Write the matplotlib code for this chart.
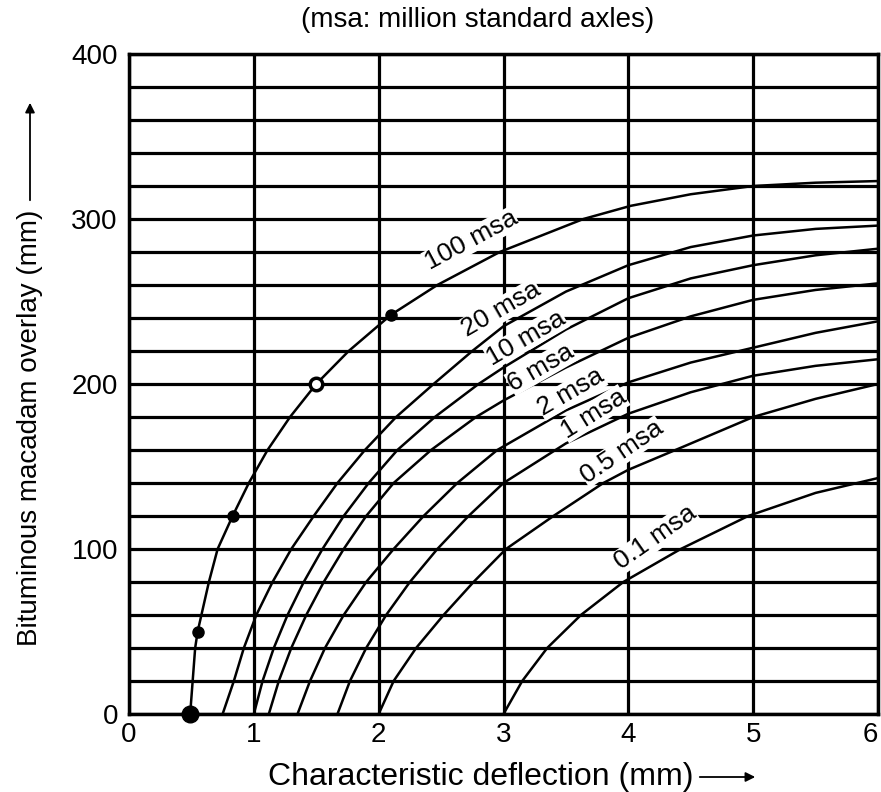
import matplotlib
matplotlib.use("Agg")
import matplotlib.pyplot as plt
import numpy as np

plt.rcParams['font.family'] = ['Liberation Sans', 'DejaVu Sans']

# ---- data ----
x_ticks = [0, 1, 2, 3, 4, 5, 6]
y_ticks = [0, 100, 200, 300, 400]

c100_x = [0.49, 0.51, 0.53, 0.55, 0.58, 0.64, 0.71, 0.83, 0.96, 1.11, 1.29, 1.50, 1.76, 2.10, 2.47, 2.97, 3.64, 4.02, 4.50, 5.00, 5.50, 6.00]
c100_y = [0, 20, 40, 50, 60, 80, 100, 120, 140, 160, 180, 200, 220, 242, 260, 280, 300, 308, 315, 320, 322, 323]

c20_x = [0.75, 0.84, 0.92, 1.02, 1.15, 1.30, 1.48, 1.67, 1.89, 2.14, 2.44, 2.75, 3.00, 3.50, 4.00, 4.50, 5.00, 5.50, 6.00]
c20_y = [0, 20, 40, 60, 80, 100, 120, 140, 160, 180, 200, 220, 235, 256, 272, 283, 290, 294, 296]

c10_x = [1.00, 1.07, 1.16, 1.27, 1.40, 1.55, 1.72, 1.92, 2.15, 2.45, 2.80, 3.00, 3.50, 4.00, 4.50, 5.00, 5.50, 6.00]
c10_y = [0, 20, 40, 60, 80, 100, 120, 140, 160, 180, 200, 210, 233, 252, 264, 272, 278, 282]

c6_x = [1.12, 1.20, 1.30, 1.42, 1.56, 1.72, 1.90, 2.12, 2.42, 2.78, 3.00, 3.50, 4.00, 4.50, 5.00, 5.50, 6.00]
c6_y = [0, 20, 40, 60, 80, 100, 120, 140, 160, 180, 190, 210, 228, 241, 251, 257, 261]

c2_x = [1.35, 1.45, 1.57, 1.72, 1.90, 2.12, 2.36, 2.63, 2.95, 3.50, 4.00, 4.50, 5.00, 5.50, 6.00]
c2_y = [0, 20, 40, 60, 80, 100, 120, 140, 160, 184, 201, 213, 222, 231, 238]

c1_x = [1.67, 1.77, 1.90, 2.06, 2.25, 2.47, 2.72, 3.00, 3.50, 4.00, 4.50, 5.00, 5.50, 6.00]
c1_y = [0, 20, 40, 60, 80, 100, 120, 140, 164, 182, 195, 205, 211, 215]

c05_x = [2.00, 2.12, 2.30, 2.52, 2.76, 3.02, 3.40, 3.80, 4.00, 4.44, 5.00, 5.50, 6.00]
c05_y = [0, 20, 40, 60, 80, 100, 120, 140, 148, 162, 180, 191, 200]

c01_x = [3.00, 3.15, 3.35, 3.62, 3.96, 4.42, 4.96, 5.50, 6.00]
c01_y = [0, 20, 40, 60, 80, 100, 120, 134, 143]

curve_labels = ["100 msa", "20 msa", "10 msa", "6 msa", "2 msa", "1 msa", "0.5 msa", "0.1 msa"]
label_x = [2.74, 2.98, 3.18, 3.30, 3.54, 3.72, 3.95, 4.22]
label_y = [287, 245, 228, 210, 195, 182, 159, 107]
label_rot = [28, 30, 30, 30, 30, 32, 34, 35]

dots_x = [0.55, 0.83, 2.10]
dots_y = [50, 120, 242]
ring_x = [1.50]
ring_y = [200]
start_x = [0.49]
start_y = [0]

W, H = 881, 792
fig = plt.figure(figsize=(W / 100, H / 100), dpi=100)
L, R, T, B = 129, 878, 54, 714
ax = fig.add_axes([L / W, 1 - B / H, (R - L) / W, (B - T) / H])
ax.set_xlim(0, 6)
ax.set_ylim(0, 400)

ax.set_xticks(x_ticks)
ax.set_xticklabels([str(v) for v in x_ticks])
ax.set_yticks(y_ticks)
ax.set_yticklabels([str(v) for v in y_ticks])
ax.set_yticks(np.arange(0, 401, 20), minor=True)
ax.tick_params(which='both', length=0, labelsize=20)
ax.tick_params(axis='y', pad=8)
ax.tick_params(axis='x', pad=6)
ax.get_xticklabels()[-1].set_horizontalalignment('right')
ax.grid(True, which='both', color='black', lw=2.3)
ax.set_axisbelow(True)
for s in ax.spines.values():
    s.set_linewidth(2.5)

curves = [(c100_x, c100_y), (c20_x, c20_y), (c10_x, c10_y), (c6_x, c6_y),
          (c2_x, c2_y), (c1_x, c1_y), (c05_x, c05_y), (c01_x, c01_y)]
for xs, ys in curves:
    ax.plot(xs, ys, color='black', lw=1.8, solid_capstyle='round', solid_joinstyle='round')

for t, x, y, r in zip(curve_labels, label_x, label_y, label_rot):
    ax.text(x, y, t, rotation=r, rotation_mode='anchor', ha='center', va='center',
            fontsize=19, color='black',
            bbox=dict(facecolor='white', edgecolor='none', pad=0.2))

ax.plot(dots_x, dots_y, 'o', color='black', ms=8, clip_on=False, zorder=5)
ax.plot(ring_x, ring_y, 'o', mfc='white', mec='black', mew=2.5, ms=9, zorder=5)
ax.plot(start_x, start_y, 'o', color='black', ms=12, clip_on=False, zorder=5)

fig.text(478 / W, 1 - 20 / H, "(msa: million standard axles)", ha='center', va='center', fontsize=20)

fig.text(481 / W, 1 - 777 / H, "Characteristic deflection (mm)", ha='center', va='center', fontsize=23)
fig.add_artist(matplotlib.patches.FancyArrowPatch((697 / W, 1 - 777 / H), (758 / W, 1 - 777 / H),
               transform=fig.transFigure, arrowstyle='-|>', mutation_scale=14, color='black', lw=1.3))

fig.text(30 / W, 1 - 428 / H, "Bituminous macadam overlay (mm)", ha='center', va='center',
         rotation=90, fontsize=20)
fig.add_artist(matplotlib.patches.FancyArrowPatch((30 / W, 1 - 203 / H), (30 / W, 1 - 100 / H),
               transform=fig.transFigure, arrowstyle='-|>', mutation_scale=14, color='black', lw=1.3))

fig.savefig("out.png", dpi=100)
